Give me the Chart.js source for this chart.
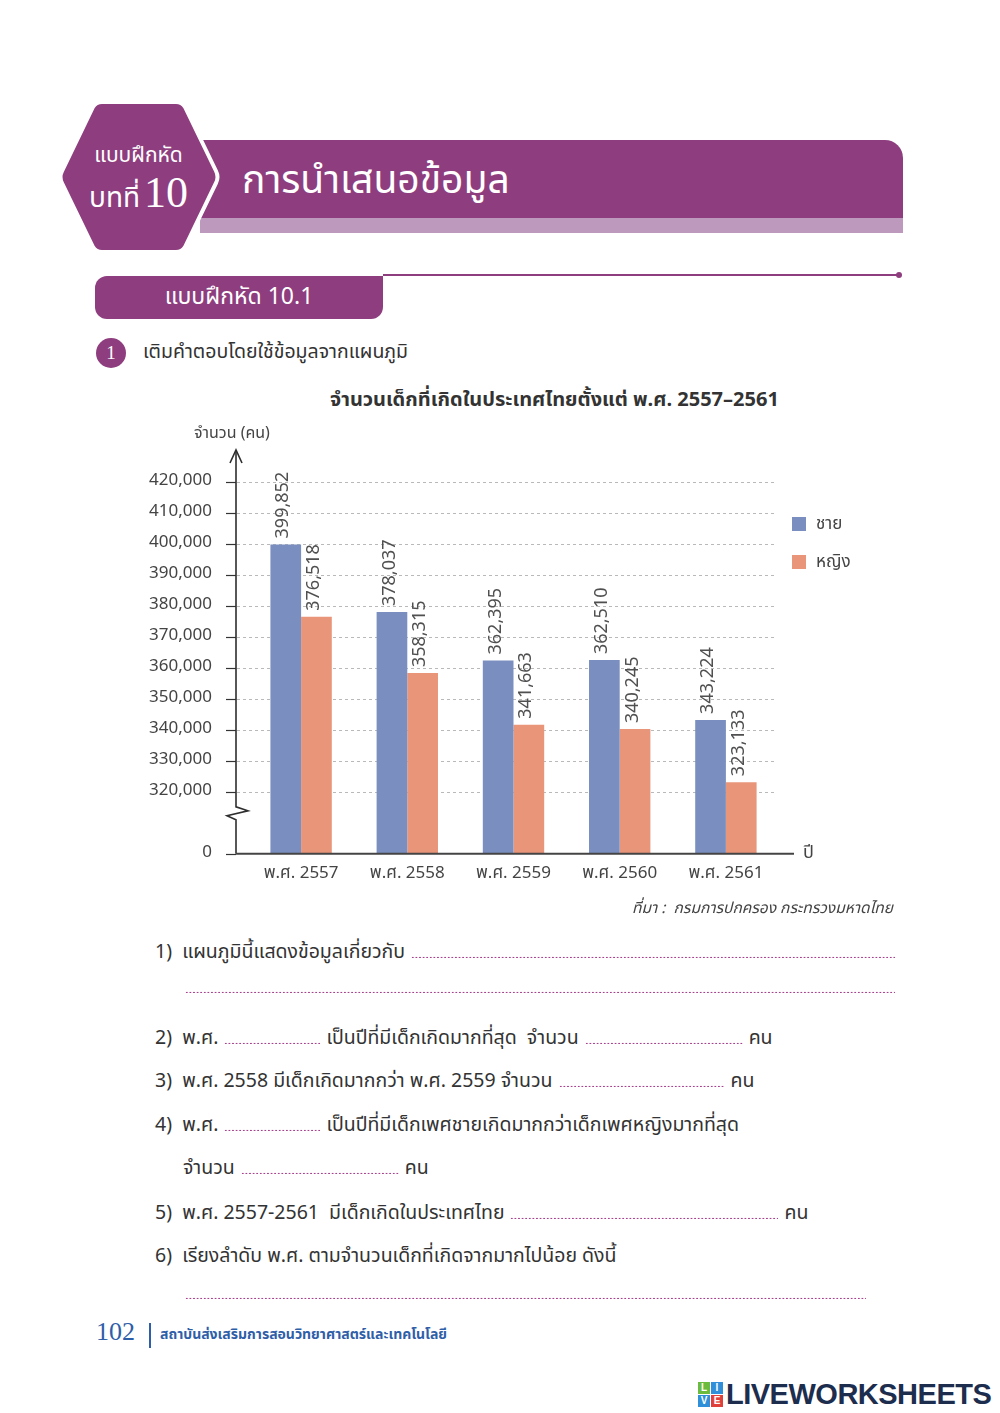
<!DOCTYPE html>
<html lang="th">
<head>
<meta charset="utf-8">
<title>จำนวนเด็กที่เกิดในประเทศไทย</title>
<script src="https://cdn.jsdelivr.net/npm/chart.js@4.4.1/dist/chart.umd.min.js"></script>
<style>
  html, body { margin: 0; padding: 0; background: #fff; }
  body { width: 1000px; height: 1413px; position: relative; overflow: hidden;
         font-family: "Noto Sans Thai", "Noto Sans", "DejaVu Sans", sans-serif; color: #333; }
  .abs { position: absolute; white-space: nowrap; }
  #banner { left: 195px; top: 140px; width: 708px; height: 78px; background: #8e3d7e; border-top-right-radius: 18px; }
  #strip { left: 200px; top: 218px; width: 703px; height: 15px; background: #bd99bd; }
  #hex { left: 58px; top: 97px; width: 162px; height: 160px; }
  #title { left: 242px; top: 155px; font-size: 39px; color: #fff; line-height: 54px; }
  #hexText1 { left: 62px; top: 140px; width: 153px; text-align: center; color: #fff; font-size: 21px; }
  #hexText2 { left: 62px; top: 167px; width: 153px; text-align: center; color: #fff; font-size: 28px; }
  #hexText2 .n { font-family: "Liberation Serif", "DejaVu Serif", serif; font-size: 44px; margin-left: 4px; }
  #rule { left: 383px; top: 274px; width: 515px; height: 2px; background: #8e3d7e; }
  #ruleDot { left: 896px; top: 272px; width: 6px; height: 6px; border-radius: 3px; background: #8e3d7e; }
  #exBox { left: 95px; top: 276px; width: 288px; height: 43px; background: #8e3d7e; color: #fff;
           border-radius: 12px 0 12px 12px; font-size: 23px; line-height: 43px; text-align: center; }
  #num1 { left: 96px; top: 338px; width: 30px; height: 30px; border-radius: 15px; background: #8e3d7e; color: #fff;
          font-family: "Liberation Serif", serif; font-size: 19px; line-height: 30px; text-align: center; }
  #intro { left: 143px; top: 338px; font-size: 19.5px; line-height: 28px; }
  #chartTitle { left: 330px; top: 385px; font-size: 20px; font-weight: bold; color: #333; }
  #yTitle { left: 194px; top: 421px; font-size: 16px; color: #444; }
  #xTitle { left: 803px; top: 839px; font-size: 18px; color: #444; }
  #source { right: 107px; top: 897px; font-size: 15.5px; font-style: italic; color: #444; }
  #chartBox { left: 130px; top: 420px; width: 720px; height: 480px; }
  #legend { left: 792px; top: 512px; }
  .leg { display: flex; align-items: center; height: 24px; margin-bottom: 14px; font-size: 17px; color: #444; }
  .leg i { display: inline-block; width: 14px; height: 14px; margin-right: 10px; }
  .q { left: 155px; font-size: 19.5px; line-height: 28px; color: #333; display: flex; align-items: baseline; }
  .q > .dots { margin: 0 6px; }
  .dots { display: inline-block; height: 10px; flex: none;
          background-image: radial-gradient(circle, #a8418f 0.9px, transparent 1.2px);
          background-size: 3.6px 3.6px; background-repeat: repeat-x; background-position: 0 8px; }
  .q > .fill { flex: 1 1 auto; margin-right: 0; }
  #pageNum { left: 96px; top: 1317px; font-family: "Liberation Serif", serif; font-size: 26px; color: #2f5ea8; }
  #pageBar { left: 149px; top: 1323px; width: 2px; height: 25px; background: #2f5ea8; }
  #pageOrg { left: 160px; top: 1324px; font-size: 14px; font-weight: bold; color: #2f5ea8; }
  #logo { left: 698px; top: 1378px; display: flex; align-items: center; }
  #logo .icon { display: grid; grid-template-columns: 12px 12px; grid-gap: 1px; margin-right: 3px; }
  #logo .icon span { width: 12px; height: 12px; font: bold 10px "Liberation Sans", sans-serif; color: #fff; text-align: center; line-height: 12px; }
  #logo .word { font-family: "Liberation Sans", sans-serif; font-weight: bold; font-size: 29px; color: #1d2d4e; letter-spacing: -0.5px; }
</style>
</head>
<body>
<div class="abs" id="banner"></div>
<div class="abs" id="strip"></div>
<svg class="abs" id="hex" viewBox="0 0 162 160">
  <path d="M44 5 L118 5 Q124 5 127 10 L158 74 Q161 80 158 86 L127 150 Q124 155 118 155 L44 155 Q38 155 35 150 L4 86 Q1 80 4 74 L35 10 Q38 5 44 5 Z"
        fill="#8e3d7e" stroke="#fff" stroke-width="4"/>
</svg>
<div class="abs" id="hexText1">แบบฝึกหัด</div>
<div class="abs" id="hexText2">บทที่<span class="n">10</span></div>
<div class="abs" id="title">การนำเสนอข้อมูล</div>

<div class="abs" id="rule"></div>
<div class="abs" id="ruleDot"></div>
<div class="abs" id="exBox">แบบฝึกหัด 10.1</div>
<div class="abs" id="num1">1</div>
<div class="abs" id="intro">เติมคำตอบโดยใช้ข้อมูลจากแผนภูมิ</div>

<div class="abs" id="chartTitle">จำนวนเด็กที่เกิดในประเทศไทยตั้งแต่ พ.ศ. 2557–2561</div>
<div class="abs" id="chartBox"><canvas id="births" width="720" height="480"></canvas></div>
<div class="abs" id="yTitle">จำนวน (คน)</div>
<div class="abs" id="xTitle">ปี</div>
<div class="abs" id="legend"></div>
<div class="abs" id="source">ที่มา :&nbsp; กรมการปกครอง กระทรวงมหาดไทย</div>

<div class="abs q" style="top:938px; width:740px">1)&nbsp; แผนภูมินี้แสดงข้อมูลเกี่ยวกับ <span class="dots fill"></span></div>
<div class="abs q" style="top:983px; left:185px"><span class="dots" style="width:710px; margin:0"></span></div>
<div class="abs q" style="top:1024px">2)&nbsp; พ.ศ. <span class="dots" style="width:96px"></span> เป็นปีที่มีเด็กเกิดมากที่สุด&nbsp; จำนวน <span class="dots" style="width:158px"></span> คน</div>
<div class="abs q" style="top:1067px">3)&nbsp; พ.ศ. 2558 มีเด็กเกิดมากกว่า พ.ศ. 2559 จำนวน <span class="dots" style="width:166px"></span> คน</div>
<div class="abs q" style="top:1111px">4)&nbsp; พ.ศ. <span class="dots" style="width:96px"></span> เป็นปีที่มีเด็กเพศชายเกิดมากกว่าเด็กเพศหญิงมากที่สุด</div>
<div class="abs q" style="top:1154px; left:183px">จำนวน <span class="dots" style="width:158px"></span> คน</div>
<div class="abs q" style="top:1199px">5)&nbsp; พ.ศ. 2557-2561&nbsp; มีเด็กเกิดในประเทศไทย <span class="dots" style="width:268px"></span> คน</div>
<div class="abs q" style="top:1242px">6)&nbsp; เรียงลำดับ พ.ศ. ตามจำนวนเด็กที่เกิดจากมากไปน้อย ดังนี้</div>
<div class="abs q" style="top:1289px; left:185px"><span class="dots" style="width:681px; margin:0"></span></div>

<div class="abs" id="pageNum">102</div>
<div class="abs" id="pageBar"></div>
<div class="abs" id="pageOrg">สถาบันส่งเสริมการสอนวิทยาศาสตร์และเทคโนโลยี</div>
<div class="abs" id="logo">
  <div class="icon">
    <span style="background:#6dbb3c">L</span><span style="background:#2f8fd8">I</span>
    <span style="background:#2f8fd8">V</span><span style="background:#e0403a">E</span>
  </div>
  <div class="word">LIVEWORKSHEETS</div>
</div>

<script>
// data
const years = ['พ.ศ. 2557', 'พ.ศ. 2558', 'พ.ศ. 2559', 'พ.ศ. 2560', 'พ.ศ. 2561'];
const maleBirths = [399852, 378037, 362395, 362510, 343224];
const femaleBirths = [376518, 358315, 341663, 340245, 323133];
const seriesNames = ['ชาย', 'หญิง'];
const seriesColors = ['#7a8fc0', '#e9957a'];
const yTickValues = [0, 320000, 330000, 340000, 350000, 360000, 370000, 380000, 390000, 400000, 410000, 420000];

// the axis is broken between 0 and 320,000: everything above 0 is shifted down by this
const AXIS_BREAK = 300000;
const FONT = '"Noto Sans Thai", "Noto Sans", "DejaVu Sans", sans-serif';

const toAxis = (v) => v === 0 ? 0 : v - AXIS_BREAK;
const fmt = (v) => v.toLocaleString('en-US');

// legend
let legend = document.getElementById('legend');
seriesNames.forEach((name, i) => {
    let row = document.createElement('div');
    row.className = 'leg';
    row.innerHTML = '<i style="background:' + seriesColors[i] + '"></i>' + name;
    legend.appendChild(row);
});

const brokenAxis = {
    id: 'brokenAxis',
    beforeDatasetsDraw(chart) {
        const { ctx, chartArea, scales: { y } } = chart;
        const ax = chartArea.left - 12;
        ctx.save();
        // dashed grid
        ctx.strokeStyle = '#b9b9b9';
        ctx.lineWidth = 1;
        ctx.setLineDash([3, 3]);
        for (let t of yTickValues) {
            if (t === 0) continue;
            let py = Math.round(y.getPixelForValue(toAxis(t))) + 0.5;
            ctx.beginPath();
            ctx.moveTo(ax + 1, py);
            ctx.lineTo(chartArea.right - 2, py);
            ctx.stroke();
        }
        ctx.setLineDash([]);
        // tick marks
        ctx.strokeStyle = '#333';
        ctx.lineWidth = 1.2;
        for (let t of yTickValues) {
            let py = Math.round(y.getPixelForValue(toAxis(t))) + 0.5;
            ctx.beginPath();
            ctx.moveTo(ax - 10, py);
            ctx.lineTo(ax, py);
            ctx.stroke();
        }
        ctx.restore();
    },
    afterDatasetsDraw(chart) {
        const { ctx, chartArea } = chart;
        const ax = chartArea.left - 12;
        const bottom = chartArea.bottom;
        ctx.save();
        ctx.strokeStyle = '#2e2e2e';
        ctx.lineWidth = 1.6;
        // y axis with zigzag break and arrow
        ctx.beginPath();
        ctx.moveTo(ax, bottom);
        ctx.lineTo(ax, bottom - 34);
        ctx.lineTo(ax - 9, bottom - 38);
        ctx.lineTo(ax + 12, bottom - 43);
        ctx.lineTo(ax, bottom - 47);
        ctx.lineTo(ax, chartArea.top - 32);
        ctx.stroke();
        ctx.beginPath();
        ctx.moveTo(ax - 6, chartArea.top - 19);
        ctx.lineTo(ax, chartArea.top - 32);
        ctx.lineTo(ax + 6, chartArea.top - 19);
        ctx.stroke();
        // x axis
        ctx.strokeStyle = '#444';
        ctx.lineWidth = 2;
        ctx.beginPath();
        ctx.moveTo(ax, bottom);
        ctx.lineTo(chartArea.right + 15, bottom);
        ctx.stroke();

        // value labels, rotated, above each bar
        ctx.fillStyle = '#505050';
        ctx.font = '18px ' + FONT;
        ctx.textAlign = 'left';
        ctx.textBaseline = 'middle';
        chart.data.datasets.forEach((ds, di) => {
            chart.getDatasetMeta(di).data.forEach((bar, i) => {
                ctx.save();
                ctx.translate(bar.x - 1, bar.y - 6);
                ctx.rotate(-Math.PI / 2);
                ctx.fillText(fmt(ds.rawValues[i]), 0, 0);
                ctx.restore();
            });
        });
        ctx.restore();
    }
};

new Chart(document.getElementById('births'), {
    type: 'bar',
    data: {
        labels: years,
        datasets: [
            { label: seriesNames[0], rawValues: maleBirths, data: maleBirths.map(toAxis), backgroundColor: seriesColors[0] },
            { label: seriesNames[1], rawValues: femaleBirths, data: femaleBirths.map(toAxis), backgroundColor: seriesColors[1] }
        ]
    },
    options: {
        responsive: false,
        animation: false,
        devicePixelRatio: 1,
        layout: { padding: { top: 62, right: 71, left: 0, bottom: 0 } },
        datasets: { bar: { categoryPercentage: 0.578, barPercentage: 1.0, borderWidth: 0 } },
        plugins: { legend: { display: false }, tooltip: { enabled: false }, title: { display: false } },
        scales: {
            x: {
                grid: { display: false, drawTicks: false },
                border: { display: false },
                ticks: { padding: 11, color: '#444', font: { size: 17, family: FONT } },
                afterFit: (s) => { s.height = 44; }
            },
            y: {
                min: 0,
                max: toAxis(420000),
                grid: { display: false, drawTicks: false },
                border: { display: false },
                afterBuildTicks: (s) => { s.ticks = yTickValues.map(v => ({ value: toAxis(v) })); },
                afterFit: (s) => { s.width = 118; },
                ticks: {
                    padding: 36,
                    color: '#444',
                    font: { size: 17, family: FONT },
                    callback: (val) => {
                        let raw = yTickValues.find(v => toAxis(v) === val);
                        return raw === undefined ? '' : fmt(raw);
                    }
                }
            }
        }
    },
    plugins: [brokenAxis]
});
</script>
</body>
</html>
